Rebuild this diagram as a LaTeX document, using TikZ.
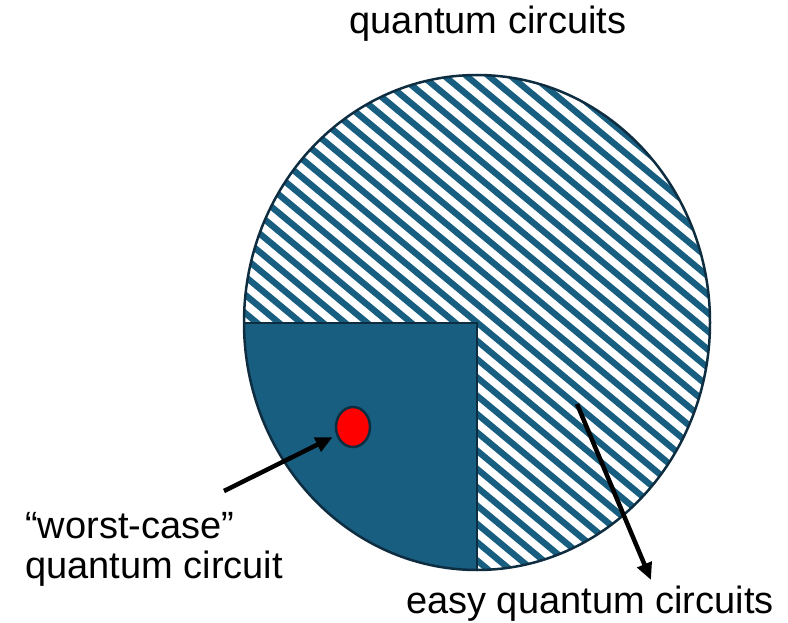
\documentclass[tikz,border=0pt]{standalone}
\usepackage{fontspec}
\setmainfont{Liberation Sans}
\usetikzlibrary{arrows.meta,calc,shapes.geometric}
\definecolor{fillblue}{RGB}{24,94,128}
\definecolor{edgeblue}{RGB}{14,45,64}
\begin{document}
\begin{tikzpicture}[x=1pt,y=-1pt,
  txt/.style={font=\fontsize{38}{41}\selectfont, inner sep=0pt},
  arr/.style={line width=4.5pt, -{Triangle[length=17pt,width=15pt]}, black},
  stripe/.style={draw=fillblue, line width=6.3pt},
  outline/.style={draw=edgeblue, line width=2.5pt}]
\useasboundingbox (0,0) rectangle (788,623);
% circle with hatching and filled quadrant
\begin{scope}
  \clip (477,322.5) ellipse [x radius=233, y radius=247.5];
  \fill[white] (477,322.5) ellipse [x radius=233, y radius=247.5];
  \foreach \c in {-32,...,32}
    \draw[stripe] (230,{322.5+\c*18.3-0.83*247}) -- (720,{322.5+\c*18.3+0.83*243});
  \fill[fillblue] (200,323) rectangle (477,600);
  \draw[outline] (200,323) -- (477,323) -- (477,600);
\end{scope}
\draw[outline] (477,322.5) ellipse [x radius=233, y radius=247.5];
% red dot
\node[ellipse, minimum width=34pt, minimum height=40pt, inner sep=0pt,
      fill=red, outline] (dot) at (353,427) {};
% texts
\node[txt, anchor=base] (title) at (488,34) {quantum circuits};
\node[txt, anchor=base west] (worst1) at (25,538) {“worst-case”};
\node[txt, anchor=base west] (worst2) at (25,578) {quantum circuit};
\node[txt, anchor=base west] (easy) at (406,613) {easy quantum circuits};
% arrows
\coordinate (w0) at (224,491);
\draw[arr, shorten >=4pt] (w0) -- (dot);
\coordinate (e0) at (577,404);
\coordinate (e1) at (651,580);
\draw[arr] (e0) -- (e1);
\end{tikzpicture}
\end{document}
